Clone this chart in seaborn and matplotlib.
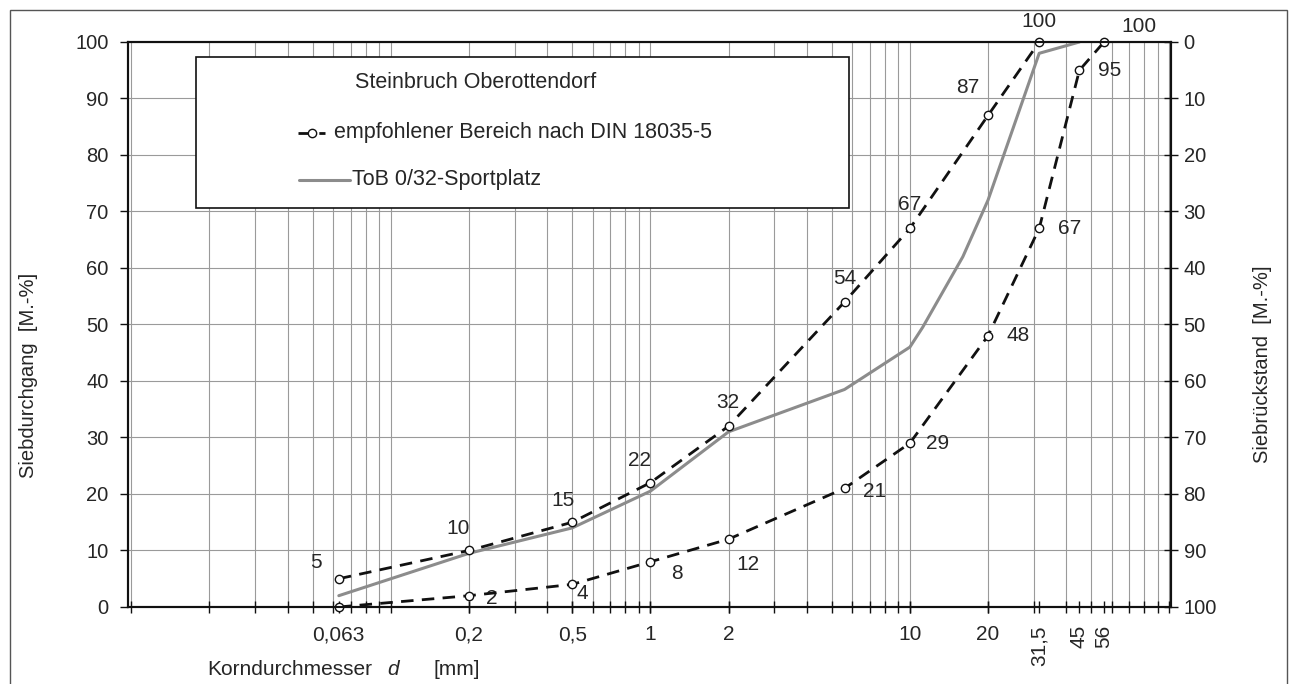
import numpy as np
import matplotlib.pyplot as plt
import matplotlib.ticker as mticker
from matplotlib.patches import Rectangle
import seaborn as sns

# -----------------------------
# data
# -----------------------------
# empfohlener Bereich nach DIN 18035-5 (upper / lower limit)
upper_d = [0.063, 0.2, 0.5, 1, 2, 5.6, 10, 20, 31.5]
upper_pass = [5, 10, 15, 22, 32, 54, 67, 87, 100]
lower_d = [0.063, 0.2, 0.5, 1, 2, 5.6, 10, 20, 31.5, 45, 56]
lower_pass = [0, 2, 4, 8, 12, 21, 29, 48, 67, 95, 100]

# ToB 0/32-Sportplatz
tob_d = [0.063, 0.2, 0.5, 1, 2, 5.6, 10, 11.2, 16, 20, 31.5, 45]
tob_pass = [2, 9.5, 14, 20.5, 31, 38.5, 46, 49.5, 62, 72, 98, 100]

xtick_vals = [0.063, 0.2, 0.5, 1, 2, 10, 20, 31.5, 45, 56]
xtick_labels = ["0,063", "0,2", "0,5", "1", "2", "10", "20", "31,5", "45", "56"]

# label offsets in pixels (None = no label)
upper_off = [(-23, 16), (-11, 22), (-9, 22), (-11, 22), (-1, 24),
             (0, 23), (0, 24), (-20, 28), (0, 20)]
lower_off = [None, (23, -3), (10, -9), (27, -12), (19, -25),
             (30, -3), (28, 0), (30, 0), (30, 0), (30, 0), (35, 15)]

sns.set_style("ticks")
plt.rcParams["font.family"] = ["Liberation Sans", "DejaVu Sans"]

fig, ax = plt.subplots(figsize=(12.95, 6.84), dpi=100)
fig.subplots_adjust(left=0.0988, right=0.9043, bottom=0.1126, top=0.9386)

ax.set_xscale("log")

dark = "#111111"
grey = "#8c8c8c"
gridc = "#9a9a9a"

line_kw = dict(color=dark, lw=2, linestyle=(0, (4.5, 3)), marker="o",
               markersize=6, markerfacecolor="white", markeredgecolor=dark,
               markeredgewidth=1, clip_on=False, zorder=4)
sns.lineplot(x=upper_d, y=upper_pass, ax=ax, **line_kw)
sns.lineplot(x=lower_d, y=lower_pass, ax=ax, **line_kw)
sns.lineplot(x=tob_d, y=tob_pass, ax=ax, color=grey, lw=2.2, zorder=3)

for x, y, off in zip(upper_d, upper_pass, upper_off):
    ax.annotate(str(y), (x, y), xytext=off, textcoords="offset pixels",
                ha="center", va="center", fontsize=15, annotation_clip=False)
for x, y, off in zip(lower_d, lower_pass, lower_off):
    if off is None:
        continue
    ax.annotate(str(y), (x, y), xytext=off, textcoords="offset pixels",
                ha="center", va="center", fontsize=15, annotation_clip=False)

# axes
ax.set_xlim(0.0097, 101.5)
ax.set_ylim(0, 100)
ax.xaxis.set_major_locator(mticker.FixedLocator(xtick_vals))
ax.xaxis.set_major_formatter(mticker.FixedFormatter(xtick_labels))
ax.xaxis.set_minor_locator(mticker.LogLocator(base=10, subs=np.arange(1, 10), numticks=100))
ax.xaxis.set_minor_formatter(mticker.NullFormatter())
ax.xaxis.remove_overlapping_locs = False
for lbl in ax.get_xticklabels()[-3:]:
    lbl.set_rotation(90)

ax.set_yticks(np.arange(0, 101, 10))
ax.grid(which="minor", axis="x", color=gridc, lw=0.8)
ax.grid(which="major", axis="y", color=gridc, lw=0.8)
ax.tick_params(axis="x", which="both", direction="inout", length=8, width=1,
               labelsize=15, pad=9, color=dark)
ax.tick_params(axis="y", direction="out", length=6, width=1, labelsize=14.5,
               pad=8, color=dark)
for s in ax.spines.values():
    s.set_color(dark)
    s.set_linewidth(1.5)

ax2 = ax.twinx()
ax2.set_ylim(100, 0)
ax2.set_yticks(np.arange(0, 101, 10))
ax2.tick_params(axis="y", direction="inout", length=10, width=1,
                labelsize=14.5, pad=4, color=dark)
for s in ax2.spines.values():
    s.set_color(dark)
    s.set_linewidth(1.5)

ax.set_ylabel("Siebdurchgang  [M.-%]", fontsize=14.5)
ax.yaxis.set_label_coords(-0.0863, 0.41)
ax2.set_ylabel("Siebrückstand  [M.-%]", fontsize=14.5)
ax2.yaxis.set_label_coords(1.0786, 0.43)

# x label with italic d
fig.text(0.160, 0.021, "Korndurchmesser", fontsize=15, va="center")
fig.text(0.2988, 0.021, "d", fontsize=15, style="italic", va="center")
fig.text(0.3344, 0.021, "[mm]", fontsize=15, va="center")

# legend box drawn by hand
ax.add_patch(Rectangle((0.0652, 0.706), 0.691 - 0.0652, 0.973 - 0.706,
                       transform=ax.transAxes, facecolor="white",
                       edgecolor=dark, lw=1.2, zorder=5))
ax.text(0.2176, 0.929, "Steinbruch Oberottendorf", transform=ax.transAxes,
        fontsize=15.5, va="center", zorder=6)
ax.plot([0.163, 0.176, 0.189], [0.839] * 3, transform=ax.transAxes,
        color=dark, lw=2, linestyle=(0, (4.5, 3)), marker="o", markevery=[1],
        markersize=6, markerfacecolor="white", markeredgecolor=dark,
        markeredgewidth=1, zorder=6)
ax.text(0.1975, 0.839, "empfohlener Bereich nach DIN 18035-5",
        transform=ax.transAxes, fontsize=15.5, va="center", zorder=6)
ax.plot([0.164, 0.213], [0.756] * 2, transform=ax.transAxes,
        color=grey, lw=2.2, zorder=6)
ax.text(0.2148, 0.756, "ToB 0/32-Sportplatz", transform=ax.transAxes,
        fontsize=15.5, va="center", zorder=6)

# outer frame
fig.add_artist(Rectangle((10 / 1295, -0.05), (1287 - 10) / 1295, (674 / 684) + 0.05,
                         transform=fig.transFigure, fill=False,
                         edgecolor="#555555", lw=1))

fig.savefig("out.png", dpi=100)
